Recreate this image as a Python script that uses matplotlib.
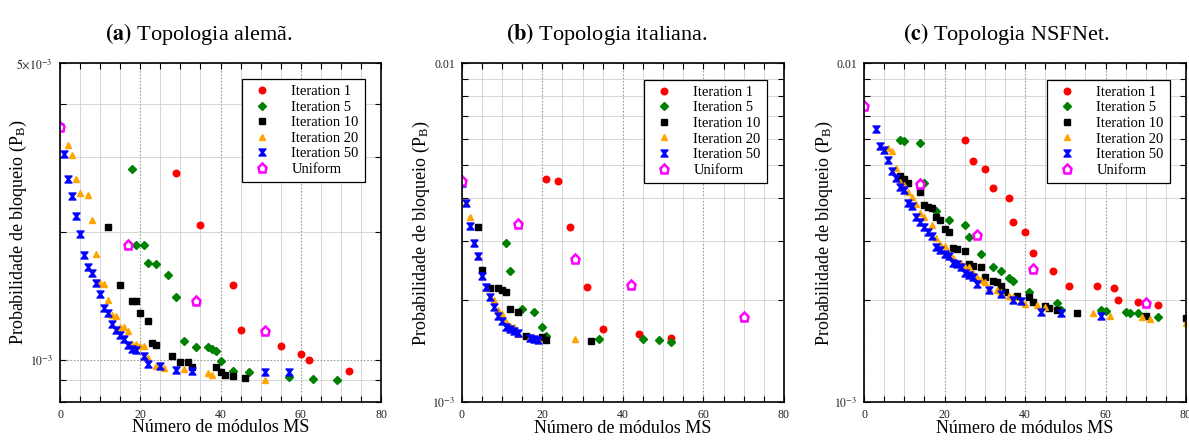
import numpy as np
import matplotlib
matplotlib.use("Agg")
import matplotlib.pyplot as plt
from matplotlib.path import Path
from matplotlib.ticker import FixedLocator, FixedFormatter, NullFormatter

plt.rcParams['font.family'] = ['Liberation Serif', 'DejaVu Serif']
plt.rcParams['mathtext.fontset'] = 'stix'

series_labels = ["Iteration 1", "Iteration 5", "Iteration 10", "Iteration 20", "Iteration 50", "Uniform"]

# ---------------- Panel (a): German topology (values x1e-3) ----------------
a_it1_x = [29, 35, 43, 45, 55, 60, 62, 72]
a_it1_y = [2.76, 2.08, 1.50, 1.18, 1.084, 1.038, 1.00, 0.942]
a_it5_x = [18, 19, 21, 22, 24, 27, 29, 31, 34, 37, 38, 39, 40, 43, 47, 57, 63, 69]
a_it5_y = [2.82, 1.87, 1.87, 1.69, 1.68, 1.59, 1.41, 1.11, 1.078, 1.078, 1.065, 1.054, 0.995, 0.942, 0.939, 0.912, 0.904, 0.899]
a_it10_x = [12, 15, 18, 19, 20, 22, 23, 24, 28, 30, 32, 33, 39, 40, 41, 43, 46]
a_it10_y = [2.06, 1.50, 1.38, 1.38, 1.29, 1.235, 1.098, 1.086, 1.022, 0.991, 0.991, 0.963, 0.963, 0.937, 0.926, 0.919, 0.907]
a_it20_x = [2, 3, 4, 5, 7, 8, 9, 10, 11, 12, 13, 14, 15, 16, 17, 18, 19, 20, 21, 22, 24, 26, 31, 37, 38, 51]
a_it20_y = [3.21, 3.03, 2.67, 2.47, 2.45, 2.14, 1.78, 1.52, 1.51, 1.385, 1.277, 1.273, 1.197, 1.195, 1.17, 1.092, 1.09, 1.084, 1.08, 1.013, 0.972, 0.958, 0.954, 0.936, 0.924, 0.898]
a_it50_x = [0, 1, 2, 3, 4, 5, 6, 7, 8, 9, 10, 11, 12, 13, 14, 15, 16, 17, 18, 19, 21, 22, 25, 29, 33, 51, 57]
a_it50_y = [3.54, 3.06, 2.67, 2.43, 2.18, 1.98, 1.77, 1.66, 1.60, 1.52, 1.43, 1.33, 1.29, 1.22, 1.18, 1.15, 1.12, 1.086, 1.065, 1.057, 1.022, 0.979, 0.972, 0.951, 0.942, 0.939, 0.939]
a_uni_x = [0, 17, 34, 51]
a_uni_y = [3.54, 1.87, 1.38, 1.174]

# ---------------- Panel (b): Italian topology ----------------
b_it1_x = [21, 24, 27, 31, 35, 44, 52]
b_it1_y = [4.55, 4.50, 3.30, 2.19, 1.64, 1.59, 1.55]
b_it5_x = [11, 12, 15, 18, 20, 21, 34, 45, 49, 52]
b_it5_y = [2.96, 2.44, 1.885, 1.847, 1.665, 1.569, 1.541, 1.541, 1.524, 1.51]
b_it10_x = [4, 5, 7, 9, 10, 11, 12, 14, 16, 20, 21, 32]
b_it10_y = [3.28, 2.46, 2.18, 2.17, 2.145, 2.116, 1.89, 1.847, 1.573, 1.562, 1.527, 1.517]
b_it20_x = [0, 1, 2, 3, 4, 5, 6, 7, 8, 9, 10, 11, 12, 13, 14, 17, 18, 19, 28]
b_it20_y = [4.48, 3.90, 3.53, 2.96, 2.71, 2.36, 2.17, 2.05, 2.00, 1.87, 1.82, 1.72, 1.68, 1.67, 1.59, 1.555, 1.541, 1.534, 1.534]
b_it50_x = [0, 1, 2, 3, 4, 5, 6, 7, 8, 9, 10, 11, 12, 13, 14, 17, 18, 19]
b_it50_y = [4.45, 3.86, 3.32, 2.96, 2.71, 2.36, 2.19, 2.05, 1.907, 1.80, 1.741, 1.665, 1.645, 1.627, 1.597, 1.545, 1.537, 1.531]
b_uni_x = [0, 14, 28, 42, 70]
b_uni_y = [4.50, 3.35, 2.65, 2.22, 1.79]

# ---------------- Panel (c): NSFNet topology ----------------
c_it1_x = [25, 27, 30, 32, 36, 37, 40, 42, 47, 51, 58, 62, 63, 68, 73]
c_it1_y = [5.94, 5.14, 4.89, 4.28, 4.01, 3.40, 3.17, 2.75, 2.435, 2.21, 2.20, 2.18, 2.00, 1.977, 1.937]
c_it5_x = [9, 10, 14, 15, 18, 21, 25, 26, 29, 32, 34, 36, 37, 41, 48, 49, 59, 60, 65, 66, 68, 73]
c_it5_y = [5.94, 5.90, 5.82, 4.45, 3.66, 3.45, 3.34, 3.08, 2.73, 2.51, 2.435, 2.33, 2.28, 2.11, 1.96, 1.877, 1.877, 1.864, 1.847, 1.835, 1.835, 1.786]
c_it10_x = [9, 10, 11, 14, 15, 16, 17, 18, 19, 20, 21, 22, 23, 25, 26, 27, 29, 30, 32, 33, 34, 35, 38, 41, 42, 45, 46, 48, 53, 70, 80]
c_it10_y = [4.66, 4.56, 4.43, 4.17, 3.82, 3.76, 3.74, 3.53, 3.45, 3.24, 3.17, 2.85, 2.83, 2.79, 2.56, 2.525, 2.51, 2.35, 2.275, 2.26, 2.21, 2.11, 2.06, 2.05, 1.98, 1.924, 1.894, 1.877, 1.835, 1.80, 1.77]
c_it20_x = [6, 7, 8, 9, 10, 11, 12, 13, 14, 15, 17, 18, 19, 20, 21, 22, 23, 24, 25, 26, 27, 28, 29, 30, 31, 33, 34, 36, 37, 39, 40, 43, 45, 57, 61, 69, 71, 80]
c_it20_y = [5.64, 5.53, 4.91, 4.46, 4.37, 4.18, 4.04, 3.855, 3.61, 3.51, 3.34, 3.06, 2.94, 2.90, 2.75, 2.66, 2.57, 2.57, 2.51, 2.51, 2.41, 2.35, 2.30, 2.26, 2.17, 2.15, 2.11, 2.06, 2.05, 2.00, 1.946, 1.94, 1.915, 1.835, 1.80, 1.786, 1.766, 1.718]
c_it50_x = [3, 4, 5, 6, 7, 8, 9, 10, 11, 12, 13, 14, 15, 16, 17, 18, 19, 20, 21, 22, 23, 24, 25, 26, 27, 28, 31, 34, 37, 39, 44, 49, 59]
c_it50_y = [6.39, 5.72, 5.54, 5.19, 4.80, 4.58, 4.33, 4.23, 3.88, 3.80, 3.53, 3.41, 3.30, 3.17, 3.095, 2.87, 2.815, 2.73, 2.70, 2.58, 2.55, 2.50, 2.40, 2.375, 2.34, 2.23, 2.145, 2.08, 2.01, 1.995, 1.847, 1.84, 1.80]
c_uni_x = [0, 14, 28, 42, 70]
c_uni_y = [7.48, 4.40, 3.11, 2.47, 1.968]

titles = [("(a)", "Topologia alemã."), ("(b)", "Topologia italiana."), ("(c)", "Topologia NSFNet.")]
x_label = "Número de módulos MS"
y_label = "Probabilidade de bloqueio (P$_\\mathregular{B}$)"
x_ticks = [0, 20, 40, 60, 80]

# hourglass marker
hourglass = Path([(-1, 1), (1, 1), (0.2, 0), (1, -1), (-1, -1), (-0.2, 0), (-1, 1)],
                 [Path.MOVETO] + [Path.LINETO] * 5 + [Path.CLOSEPOLY])

styles = [
    dict(marker='o', color='#ff0000', ms=4.7, mec='#ff0000'),
    dict(marker='D', color='#008000', ms=4.1, mec='#008000'),
    dict(marker='s', color='#000000', ms=4.5, mec='#000000'),
    dict(marker='^', color='#ffa500', ms=4.9, mec='#ffa500'),
    dict(marker=hourglass, color='#0000ff', ms=5.0, mec='#0000ff'),
    dict(marker='p', color='#ff00ff', ms=6.6, mec='#ff00ff', mfc='white', mew=1.8),
]

panels = [
    [(a_it1_x, a_it1_y), (a_it5_x, a_it5_y), (a_it10_x, a_it10_y), (a_it20_x, a_it20_y), (a_it50_x, a_it50_y), (a_uni_x, a_uni_y)],
    [(b_it1_x, b_it1_y), (b_it5_x, b_it5_y), (b_it10_x, b_it10_y), (b_it20_x, b_it20_y), (b_it50_x, b_it50_y), (b_uni_x, b_uni_y)],
    [(c_it1_x, c_it1_y), (c_it5_x, c_it5_y), (c_it10_x, c_it10_y), (c_it20_x, c_it20_y), (c_it50_x, c_it50_y), (c_uni_x, c_uni_y)],
]

W, H = 1189, 440
fig = plt.figure(figsize=(W / 100, H / 100), dpi=100)

ax_px = [(60, 62.7, 321, 339), (461.7, 63.3, 322.3, 339), (864, 63.3, 322, 339)]
title_cx = [199, 607, 1006]
ylab_x = [-0.096, -0.093, -0.091]
legend_right = [0.95, 0.947, 0.95]

ylims = [(8e-4, 5e-3), (1e-3, 1e-2), (1e-3, 1e-2)]
ymajor = [[1e-3, 5e-3], [1e-3, 1e-2], [1e-3, 1e-2]]
ymajor_lbl = [[r"$10^{-3}$", r"$5{\times}10^{-3}$"], [r"$10^{-3}$", "0.01"], [r"$10^{-3}$", "0.01"]]
yminor = [[8e-4, 9e-4, 2e-3, 3e-3, 4e-3],
          [k * 1e-3 for k in range(2, 10)],
          [k * 1e-3 for k in range(2, 10)]]

for i in range(3):
    l, t, w, h = ax_px[i]
    ax = fig.add_axes([l / W, 1 - (t + h) / H, w / W, h / H])
    ax.set_yscale('log')
    for (xs, ys), st, lab in zip(panels[i], styles, series_labels):
        yv = np.array(ys) * 1e-3
        ax.plot(xs, yv, linestyle='none', label=lab, **st)
    ax.set_xlim(0, 80)
    ax.set_ylim(*ylims[i])
    ax.xaxis.set_major_locator(FixedLocator(x_ticks))
    ax.xaxis.set_minor_locator(FixedLocator([v for v in range(0, 81, 5) if v % 20 != 0]))
    ax.yaxis.set_major_locator(FixedLocator(ymajor[i]))
    ax.yaxis.set_major_formatter(FixedFormatter(ymajor_lbl[i]))
    ax.yaxis.set_minor_locator(FixedLocator(yminor[i]))
    ax.yaxis.set_minor_formatter(NullFormatter())
    ax.tick_params(which='both', direction='in', top=True, right=True, length=4, width=0.8,
                   labelsize=8.5, labelcolor='#222222', pad=5)
    ax.grid(which='major', color='#9a9a9a', linestyle=(0, (1.5, 1.5)), linewidth=0.8)
    ax.grid(which='minor', color='#d0d0d0', linestyle='-', linewidth=0.6)
    ax.set_axisbelow(True)
    for sp in ax.spines.values():
        sp.set_linewidth(1.2)
        sp.set_color('black')
    ax.set_xlabel(x_label, fontsize=13)
    ax.xaxis.set_label_coords(0.5, -0.052)
    ax.set_ylabel(y_label, fontsize=13)
    ax.yaxis.set_label_coords(ylab_x[i], 0.5)
    leg = ax.legend(loc='upper right', bbox_to_anchor=(legend_right[i], 0.952), borderaxespad=0,
                    fontsize=10.5, frameon=True, fancybox=False, edgecolor='black', framealpha=1,
                    handlelength=2.0, handletextpad=1.0, labelspacing=0.16, borderpad=0.42,
                    numpoints=1)
    leg.get_frame().set_linewidth(0.9)
    b, rest = titles[i]
    fig.text(title_cx[i] / W, 1 - 40 / H, r"$\mathbf{" + b + "}$ " + rest, fontsize=16,
             ha='center', va='baseline')

fig.savefig("out.png", dpi=100)
